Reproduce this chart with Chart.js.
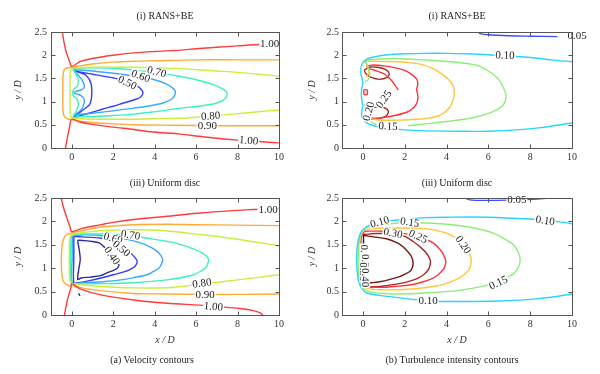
<!DOCTYPE html>
<html>
<head>
<meta charset="utf-8">
<script src="https://cdn.jsdelivr.net/npm/chart.js@4.4.1/dist/chart.umd.min.js"></script>
<style>
  body { margin: 0; background: #fff; }
  #wrap { position: relative; width: 600px; height: 374px; font-family: "Liberation Serif", "Times New Roman", serif; color: #222; }
  canvas { position: absolute; }
  .txt { position: absolute; font-size: 10px; white-space: nowrap; transform: translate(-50%, -50%); }
</style>
</head>
<body>
<div id="wrap">
  <canvas id="cTL" width="300" height="170" style="left:0;top:0"></canvas>
  <canvas id="cTR" width="300" height="170" style="left:300px;top:0"></canvas>
  <canvas id="cBL" width="300" height="204" style="left:0;top:170px"></canvas>
  <canvas id="cBR" width="300" height="204" style="left:300px;top:170px"></canvas>
  <div class="txt" style="left:165px;top:15px">(i) RANS+BE</div>
  <div class="txt" style="left:457px;top:15px">(i) RANS+BE</div>
  <div class="txt" style="left:165px;top:182px">(iii) Uniform disc</div>
  <div class="txt" style="left:457px;top:182px">(iii) Uniform disc</div>
  <div class="txt" style="left:152px;top:359px">(a) Velocity contours</div>
  <div class="txt" style="left:452px;top:359px">(b) Turbulence intensity contours</div>
</div>
<script>
/* ---------- axes ---------- */
var xTickVals = [0, 2, 4, 6, 8, 10];
var xTickText = ['0', '2', '4', '6', '8', '10'];
var yTickVals = [0, 0.5, 1, 1.5, 2, 2.5];
var yTickText = ['0', '0.5', '1', '1.5', '2', '2.5'];

/* ---------- (a)(i) velocity, RANS+BE : [x/D, y/D] ---------- */
var tlV100a = [[-0.45,2.5],[-0.38,2.3],[-0.26,2.06],[-0.1,1.86],[0,1.76],[0.4,1.86],[1,1.93],[2,2.0],[3,2.05],[4,2.08],[5.25,2.11],[6,2.14],[7,2.17],[8,2.2],[9,2.23],[10,2.25]];
var tlV100b = [[-0.3,0],[-0.22,0.2],[-0.12,0.42],[0,0.62],[0.4,0.56],[1,0.51],[2,0.45],[3,0.4],[3.8,0.35],[5.25,0.3],[6,0.26],[7,0.21],[8,0.17],[9,0.14],[10,0.11]];
var tlV090 = [[10,1.9],[8,1.9],[6,1.9],[4,1.88],[3,1.87],[2,1.85],[1,1.81],[0.4,1.77],[0,1.74],[-0.2,1.73],[-0.36,1.69],[-0.42,1.55],[-0.43,1.2],[-0.43,0.9],[-0.38,0.7],[-0.2,0.63],[0,0.61],[0.4,0.58],[1,0.55],[2,0.52],[3,0.5],[5,0.49],[7,0.48],[10,0.48]];
var tlV080 = [[10,1.55],[9,1.59],[8,1.63],[7,1.66],[6,1.69],[5.25,1.71],[4,1.73],[3,1.74],[2,1.74],[1,1.74],[0.4,1.73],[0,1.72],[-0.07,1.64],[-0.08,1.2],[-0.07,0.74],[0,0.65],[0.5,0.63],[1,0.62],[2,0.62],[3,0.62],[3.8,0.63],[5.25,0.64],[6.5,0.68],[8,0.74],[9,0.78],[10,0.82]];
var tlV070 = [[0.05,1.72],[1,1.73],[2,1.72],[3,1.68],[4,1.63],[5.25,1.54],[6,1.47],[6.8,1.37],[7.3,1.27],[7.5,1.18],[7.4,1.06],[7.0,0.97],[6.3,0.91],[5.25,0.86],[4.5,0.81],[3.8,0.77],[3,0.73],[2,0.7],[1,0.68],[0.3,0.67],[0.05,0.66],[0.2,0.78],[0.32,0.93],[0.25,1.06],[0.1,1.11],[0.05,1.18],[0.1,1.27],[0.25,1.32],[0.32,1.45],[0.2,1.6],[0.05,1.72]];
var tlV060 = [[0.05,1.69],[1,1.66],[2,1.61],[3,1.55],[4,1.47],[4.6,1.37],[4.95,1.26],[5.0,1.18],[4.85,1.06],[4.4,0.97],[3.8,0.91],[3,0.86],[2,0.8],[1,0.75],[0.3,0.72],[0.08,0.7],[0.35,0.78],[0.53,0.88],[0.61,1.04],[0.45,1.13],[0.2,1.17],[0.1,1.19],[0.2,1.22],[0.45,1.25],[0.61,1.3],[0.53,1.44],[0.3,1.58],[0.05,1.69]];
var tlV050 = [[0.08,1.68],[0.5,1.63],[1,1.59],[1.5,1.55],[2,1.51],[2.7,1.43],[3.15,1.34],[3.38,1.25],[3.43,1.17],[3.32,1.1],[3.1,1.05],[2.5,0.97],[2,0.9],[1.5,0.84],[1,0.77],[0.5,0.71],[0.1,0.66],[0.45,0.79],[0.85,0.93],[0.96,1.11],[0.93,1.39],[0.69,1.57],[0.29,1.64],[0.08,1.68]];
var tlLabels = [[9.55,2.24,'1.00'],[8.54,0.16,'1.00'],[6.54,0.48,'0.90'],[6.7,0.69,'0.80'],[4.1,1.64,'0.70'],[3.33,1.55,'0.60'],[2.69,1.41,'0.50']];

/* ---------- (b)(i) turbulence intensity, RANS+BE ---------- */
var trT005 = [[5.5,2.5],[5.65,2.46],[6,2.44],[7,2.42],[8,2.41],[9.3,2.4]];
var trT010 = [[10,1.86],[9,1.9],[8,1.95],[7,1.98],[6,2.01],[5,2.03],[4,2.04],[3,2.04],[2,2.03],[1,2.0],[0.6,1.97],[0.2,1.92],[-0.05,1.8],[-0.1,1.62],[-0.02,1.45],[0,1.4],[-0.06,1.28],[-0.07,1.1],[-0.03,0.97],[0,0.92],[-0.06,0.78],[-0.04,0.66],[0.18,0.54],[0.8,0.45],[2,0.39],[3,0.37],[5,0.36],[6,0.36],[7.36,0.39],[8.5,0.44],[10,0.54]];
var trT015a = [[0.1,1.43],[0.25,1.47],[0.33,1.6],[0.22,1.78],[0.1,1.88],[0.5,1.91],[1.6,1.93],[3.2,1.89],[4.2,1.86],[5,1.82],[5.6,1.76],[6.0,1.66],[6.45,1.5],[6.72,1.3],[6.85,1.1],[6.7,0.92],[6.3,0.8],[5.6,0.69],[5,0.63],[4,0.57],[3,0.52],[2.17,0.48]];
var trT015b = [[0.65,0.5],[0.4,0.56],[0.25,0.65],[0.28,0.76],[0.22,0.86],[0.05,0.93]];
var trT020 = [[0.18,1.52],[0.28,1.66],[0.18,1.8],[0.1,1.86],[0.6,1.87],[1.61,1.86],[2.4,1.83],[2.89,1.79],[3.4,1.7],[3.85,1.57],[4.15,1.45],[4.33,1.32],[4.37,1.2],[4.36,1.11],[4.17,0.89],[3.69,0.71],[2.89,0.63],[1.61,0.6],[0.66,0.61],[0.18,0.68],[0.22,0.78],[0.18,0.88]];
var trT025a = [[0.15,1.76],[0.5,1.79],[1.0,1.77],[1.61,1.72],[2.1,1.65],[2.4,1.56],[2.6,1.46],[2.62,1.36],[2.57,1.26],[2.63,1.12],[2.6,0.99],[2.45,0.88],[2.09,0.77],[1.29,0.68],[0.49,0.64],[0.18,0.69]];
var trT025b = [[0.2,1.72],[0.6,1.67],[1.05,1.59],[1.4,1.44],[1.69,1.25]];
var trT025c = [[0.05,1.15],[0.2,1.15],[0.2,1.25],[0.05,1.25],[0.05,1.15]];
var trT030a = [[0.06,1.68],[0.3,1.74],[0.7,1.74],[1.1,1.69],[1.26,1.6],[1.15,1.52],[0.8,1.48],[0.4,1.52],[0.15,1.6],[0.06,1.68]];
var trT030b = [[0.08,0.66],[0.3,0.81],[0.6,0.88],[1.0,0.87],[1.22,0.79],[1.1,0.69],[0.7,0.63],[0.3,0.63],[0.08,0.66]];
var trLabels = [[10.25,2.43,'0.05'],[6.8,2.0,'0.10'],[1.2,0.47,'0.15'],[0.27,0.79,'0.20'],[1.0,1.05,'0.25']];

/* ---------- (a)(iii) velocity, uniform disc ---------- */
var blV100a = [[-0.51,2.5],[-0.43,2.35],[-0.33,2.2],[-0.2,2.03],[-0.08,1.88],[0,1.78],[0.5,1.85],[1.41,1.93],[2,1.98],[3,2.04],[4.6,2.11],[6.2,2.18],[7.8,2.23],[9,2.26],[10,2.29]];
var blV100b = [[-0.35,0],[-0.3,0.12],[-0.22,0.3],[-0.12,0.46],[-0.04,0.58],[0,0.67],[0.4,0.56],[1.41,0.43],[3,0.32],[4.6,0.25],[6.2,0.21],[7,0.18],[8.1,0.14],[8.7,0.1],[9.07,0.05],[9.23,0]];
var blV090 = [[10,1.91],[8,1.92],[6,1.93],[4.6,1.94],[3,1.93],[1.41,1.88],[0.5,1.8],[0,1.75],[-0.3,1.7],[-0.45,1.52],[-0.5,1.2],[-0.48,0.9],[-0.4,0.72],[-0.15,0.62],[0,0.63],[0.5,0.58],[1.41,0.52],[3,0.46],[4.5,0.45],[6.44,0.44],[8,0.44],[10,0.45]];
var blV080 = [[10,1.48],[8,1.62],[6.2,1.72],[4.5,1.8],[3,1.82],[1.41,1.8],[0.5,1.76],[0,1.71],[-0.1,1.62],[-0.12,1.2],[-0.1,0.76],[0,0.68],[0.5,0.64],[1.41,0.61],[3,0.58],[4.5,0.58],[5.5,0.62],[6.28,0.66],[8,0.75],[10,0.86]];
var blV070 = [[0,1.71],[0.5,1.73],[1.41,1.73],[2.76,1.7],[3.8,1.63],[4.5,1.58],[5.08,1.53],[5.7,1.44],[6.2,1.35],[6.5,1.26],[6.6,1.18],[6.55,1.08],[6.44,1.0],[6.2,0.93],[5.88,0.86],[5.2,0.79],[4.6,0.75],[3,0.69],[1.41,0.67],[0.5,0.67],[0,0.68],[-0.04,0.8],[-0.05,1.2],[-0.04,1.6],[0,1.71]];
var blV060 = [[0.03,1.7],[0.5,1.71],[1.09,1.71],[1.96,1.66],[2.6,1.62],[3.32,1.54],[3.8,1.45],[4.12,1.36],[4.32,1.26],[4.39,1.18],[4.32,1.08],[4.2,1.0],[3.9,0.92],[3.64,0.86],[3,0.8],[2.36,0.75],[1.5,0.71],[1.09,0.7],[0.5,0.69],[0.03,0.69],[0.02,1.2],[0.03,1.7]];
var blV050 = [[0.1,1.68],[0.5,1.67],[1.41,1.64],[2,1.57],[2.36,1.48],[2.7,1.38],[2.92,1.29],[3.1,1.2],[3.16,1.14],[3.1,1.07],[3,1.02],[2.8,0.97],[2.52,0.92],[2,0.86],[1.41,0.79],[0.8,0.73],[0.29,0.69],[0.1,0.69],[0.1,1.2],[0.1,1.68]];
var blV040a = [[0.29,1.6],[0.6,1.59],[1.0,1.57],[1.32,1.54],[1.6,1.44],[1.96,1.28],[2.15,1.16],[2.28,1.07],[2.2,1.0],[2.04,0.96],[1.7,0.9],[1.4,0.84],[0.9,0.81],[0.45,0.79],[0.29,0.76],[0.33,0.95],[0.41,1.18],[0.36,1.4],[0.3,1.55],[0.29,1.6]];
var blV040b = [[0.33,0.46],[0.4,0.41]];
var blLabels = [[9.47,2.26,'1.00'],[6.84,0.18,'1.00'],[6.44,0.44,'0.90'],[6.28,0.68,'0.80'],[2.84,1.71,'0.70'],[2.0,1.64,'0.60'],[2.4,1.42,'0.50'],[1.95,1.27,'0.40']];

/* ---------- (b)(iii) turbulence intensity, uniform disc ---------- */
var brT005 = [[4.88,2.5],[5.1,2.46],[5.44,2.45],[6.4,2.45],[7.36,2.46],[8.32,2.48],[8.96,2.5]];
var brT010 = [[10,1.95],[9.6,1.98],[8.72,2.02],[8,2.05],[6,2.09],[4,2.09],[3,2.08],[2.08,2.05],[1.2,2.01],[0.5,1.95],[0.16,1.88],[-0.08,1.78],[-0.22,1.6],[-0.28,1.4],[-0.3,1.2],[-0.28,0.95],[-0.22,0.75],[-0.08,0.58],[0.2,0.47],[0.8,0.42],[2.24,0.34],[3.12,0.3],[4.16,0.29],[6.56,0.3],[8.16,0.34],[9,0.38],[10,0.45]];
var brT015 = [[-0.05,1.78],[0.16,1.86],[0.8,1.93],[2.24,1.97],[3.36,1.96],[4.96,1.89],[5.6,1.83],[6.24,1.75],[6.8,1.62],[7.2,1.5],[7.45,1.32],[7.52,1.18],[7.44,1.02],[7.2,0.88],[6.8,0.77],[6.48,0.7],[5.6,0.6],[4.5,0.52],[3.36,0.48],[2,0.45],[1.0,0.46],[0.3,0.5],[-0.05,0.6],[-0.18,0.75],[-0.22,1.0],[-0.22,1.3],[-0.18,1.6],[-0.05,1.78]];
var brT020 = [[0.08,1.82],[0.6,1.85],[1.76,1.86],[2.8,1.85],[3.36,1.82],[4.0,1.75],[4.5,1.63],[4.8,1.5],[5.05,1.35],[5.18,1.2],[5.15,1.05],[5.04,0.95],[4.8,0.85],[4.48,0.76],[3.9,0.66],[3.36,0.61],[2.5,0.56],[1.76,0.54],[0.8,0.54],[0.2,0.57],[-0.1,0.65],[-0.15,0.8],[-0.17,1.2],[-0.15,1.6],[-0.05,1.77],[0.08,1.82]];
var brT025 = [[0.08,1.79],[1,1.79],[2,1.74],[2.64,1.68],[3.0,1.62],[3.36,1.54],[3.65,1.42],[3.84,1.3],[3.97,1.14],[3.9,1.02],[3.8,0.95],[3.6,0.86],[3.36,0.79],[2.8,0.7],[2.24,0.64],[1.5,0.61],[0.96,0.59],[0.3,0.6],[0,0.64],[-0.08,0.75],[-0.1,1.2],[-0.08,1.65],[0.08,1.79]];
var brT030 = [[0.05,1.72],[0.6,1.74],[1.44,1.74],[2.0,1.68],[2.4,1.57],[2.75,1.45],[3.04,1.32],[3.2,1.2],[3.23,1.12],[3.18,1.02],[3.1,0.95],[2.9,0.86],[2.64,0.79],[2.2,0.72],[1.6,0.66],[1.0,0.62],[0.32,0.6],[0.05,0.63]];
var brT035 = [[0.05,1.7],[0.5,1.67],[1.12,1.63],[1.6,1.55],[1.92,1.46],[2.15,1.35],[2.32,1.25],[2.4,1.11],[2.35,1.0],[2.24,0.93],[2.0,0.87],[1.76,0.82],[1.3,0.76],[0.8,0.71],[0.4,0.69],[0.08,0.68]];
var brT040 = [[0.03,1.73],[0.03,1.4],[0.05,1.0],[0.06,0.68]];
var brLabels = [[7.36,2.46,'0.05'],[8.72,2.02,'0.10'],[0.8,1.99,'0.10'],[2.24,1.98,'0.15'],[1.44,1.75,'0.30'],[2.64,1.68,'0.25'],[4.8,1.5,'0.20'],[6.48,0.69,'0.15'],[3.12,0.3,'0.10'],[0.05,1.3,'0.20'],[0.1,1.1,'0.35'],[0.04,0.92,'0.30'],[0.12,0.8,'0.40']];

/* ---------- styles ---------- */
var SERIF = '"Liberation Serif", "Times New Roman", serif';
var velColor = { '1.00': '#ff3b3b', '0.90': '#ffab3a', '0.80': '#c9ef3a', '0.70': '#3cf2b8', '0.60': '#38aaff', '0.50': '#3a3aff', '0.40': '#2a2a9e' };
var turbColor = { '0.05': '#3a4cff', '0.10': '#2ad4ff', '0.15': '#8eee7a', '0.20': '#ffc63a', '0.25': '#ff3535', '0.30': '#a82828', '0.35': '#741818', '0.40': '#222222' };
var tlAngles = [0, 5, 0, -4, 14, 20, 25];
var trAngles = [0, 2, 3, -75, -55];
var blAngles = [0, 5, 0, -8, 8, 15, 40, 55];
var brAngles = [0, 8, -15, 8, 10, 25, 55, -25, 0, 90, 90, 90, 90];

Chart.defaults.font.family = SERIF;

function labelPlugin(items, angles) {
  return {
    id: 'contourLabels',
    afterDatasetsDraw: function (chart) {
      var ctx = chart.ctx, sx = chart.scales.x, sy = chart.scales.y;
      ctx.save();
      ctx.font = '11px ' + SERIF;
      ctx.textAlign = 'center';
      ctx.textBaseline = 'middle';
      items.forEach(function (it, i) {
        var px = sx.getPixelForValue(it[0]);
        var py = sy.getPixelForValue(it[1]);
        ctx.save();
        ctx.translate(px, py);
        ctx.rotate((angles[i] || 0) * Math.PI / 180);
        var w = ctx.measureText(it[2]).width;
        ctx.fillStyle = '#fff';
        ctx.fillRect(-w / 2 - 1, -4.5, w + 2, 9);
        ctx.fillStyle = '#222';
        ctx.fillText(it[2], 0, 0.5);
        ctx.restore();
      });
      ctx.restore();
    }
  };
}

// cadre + graduations vers l'intérieur
var framePlugin = {
  id: 'frame',
  afterDraw: function (chart) {
    var ctx = chart.ctx, a = chart.chartArea, sx = chart.scales.x, sy = chart.scales.y;
    var L = Math.round(a.left) + 0.5, R = Math.round(a.right) + 0.5;
    var T = Math.round(a.top) + 0.5, B = Math.round(a.bottom) + 0.5;
    ctx.save();
    ctx.strokeStyle = '#555';
    ctx.lineWidth = 1;
    ctx.strokeRect(L, T, R - L, B - T);
    ctx.beginPath();
    xTickVals.forEach(function (v) {
      var px = Math.round(sx.getPixelForValue(v)) + 0.5;
      ctx.moveTo(px, B); ctx.lineTo(px, B - 4);
      ctx.moveTo(px, T); ctx.lineTo(px, T + 4);
    });
    yTickVals.forEach(function (v) {
      var py = Math.round(sy.getPixelForValue(v)) + 0.5;
      ctx.moveTo(L, py); ctx.lineTo(L + 4, py);
      ctx.moveTo(R, py); ctx.lineTo(R - 4, py);
    });
    ctx.stroke();
    ctx.restore();
  }
};

function makePanel(id, lines, labels, angles, box) {
  return new Chart(document.getElementById(id), {
    type: 'scatter',
    data: {
      datasets: lines.map(function (l) {
        return {
          data: l[0].map(function (p) { return { x: p[0], y: p[1] }; }),
          borderColor: l[1], borderWidth: 1.4, showLine: true,
          pointRadius: 0, tension: 0.3, fill: false
        };
      })
    },
    options: {
      responsive: false, animation: false, events: [],
      layout: { padding: { top: box.top, right: box.right, left: 0, bottom: 0 } },
      plugins: { legend: { display: false }, tooltip: { enabled: false } },
      scales: {
        x: {
          type: 'linear', min: -1, max: 10,
          grid: { display: false, drawTicks: false }, border: { display: false },
          afterBuildTicks: function (axis) { axis.ticks = xTickVals.map(function (v) { return { value: v }; }); },
          afterFit: function (axis) { axis.height = box.xh; },
          ticks: { autoSkip: false, maxRotation: 0, padding: 3, color: '#333', font: { size: 10 },
            callback: function (v, i) { return xTickText[i]; } },
          title: { display: box.xTitle, text: 'x / D', color: '#333',
            font: { size: 10, style: 'italic' }, padding: { top: 0, bottom: 28 } }
        },
        y: {
          type: 'linear', min: 0, max: 2.5,
          grid: { display: false, drawTicks: false }, border: { display: false },
          afterBuildTicks: function (axis) { axis.ticks = yTickVals.map(function (v) { return { value: v }; }); },
          afterFit: function (axis) { axis.width = box.yw; },
          ticks: { autoSkip: false, padding: box.yPad, color: '#333', font: { size: 10 },
            callback: function (v, i) { return yTickText[i]; } },
          title: { display: true, text: 'y / D', color: '#333',
            font: { size: 10, style: 'italic' }, padding: { top: box.yTitlePad, bottom: 0 } }
        }
      }
    },
    plugins: [labelPlugin(labels, angles), framePlugin]
  });
}

var V = velColor, Tc = turbColor;

makePanel('cTL', [
  [tlV100a, V['1.00']], [tlV100b, V['1.00']], [tlV090, V['0.90']], [tlV080, V['0.80']],
  [tlV070, V['0.70']], [tlV060, V['0.60']], [tlV050, V['0.50']]
], tlLabels, tlAngles, { top: 32, right: 21, xh: 22, yw: 51, yPad: 4, yTitlePad: 12, xTitle: false });

makePanel('cTR', [
  [trT005, Tc['0.05']], [trT010, Tc['0.10']], [trT015a, Tc['0.15']], [trT015b, Tc['0.15']],
  [trT020, Tc['0.20']], [trT025a, Tc['0.25']], [trT025b, Tc['0.25']], [trT025c, Tc['0.25']],
  [trT030a, Tc['0.30']], [trT030b, Tc['0.30']]
], trLabels, trAngles, { top: 32, right: 28, xh: 22, yw: 42, yPad: 3, yTitlePad: 6, xTitle: false });

makePanel('cBL', [
  [blV100a, V['1.00']], [blV100b, V['1.00']], [blV090, V['0.90']], [blV080, V['0.80']],
  [blV070, V['0.70']], [blV060, V['0.60']], [blV050, V['0.50']], [blV040a, V['0.40']], [blV040b, V['0.40']]
], blLabels, blAngles, { top: 28, right: 21, xh: 59, yw: 51, yPad: 4, yTitlePad: 12, xTitle: true });

makePanel('cBR', [
  [brT005, Tc['0.05']], [brT010, Tc['0.10']], [brT015, Tc['0.15']], [brT020, Tc['0.20']],
  [brT025, Tc['0.25']], [brT030, Tc['0.30']], [brT035, Tc['0.35']], [brT040, Tc['0.40']]
], brLabels, brAngles, { top: 28, right: 28, xh: 59, yw: 42, yPad: 3, yTitlePad: 6, xTitle: true });
</script>
</body>
</html>
